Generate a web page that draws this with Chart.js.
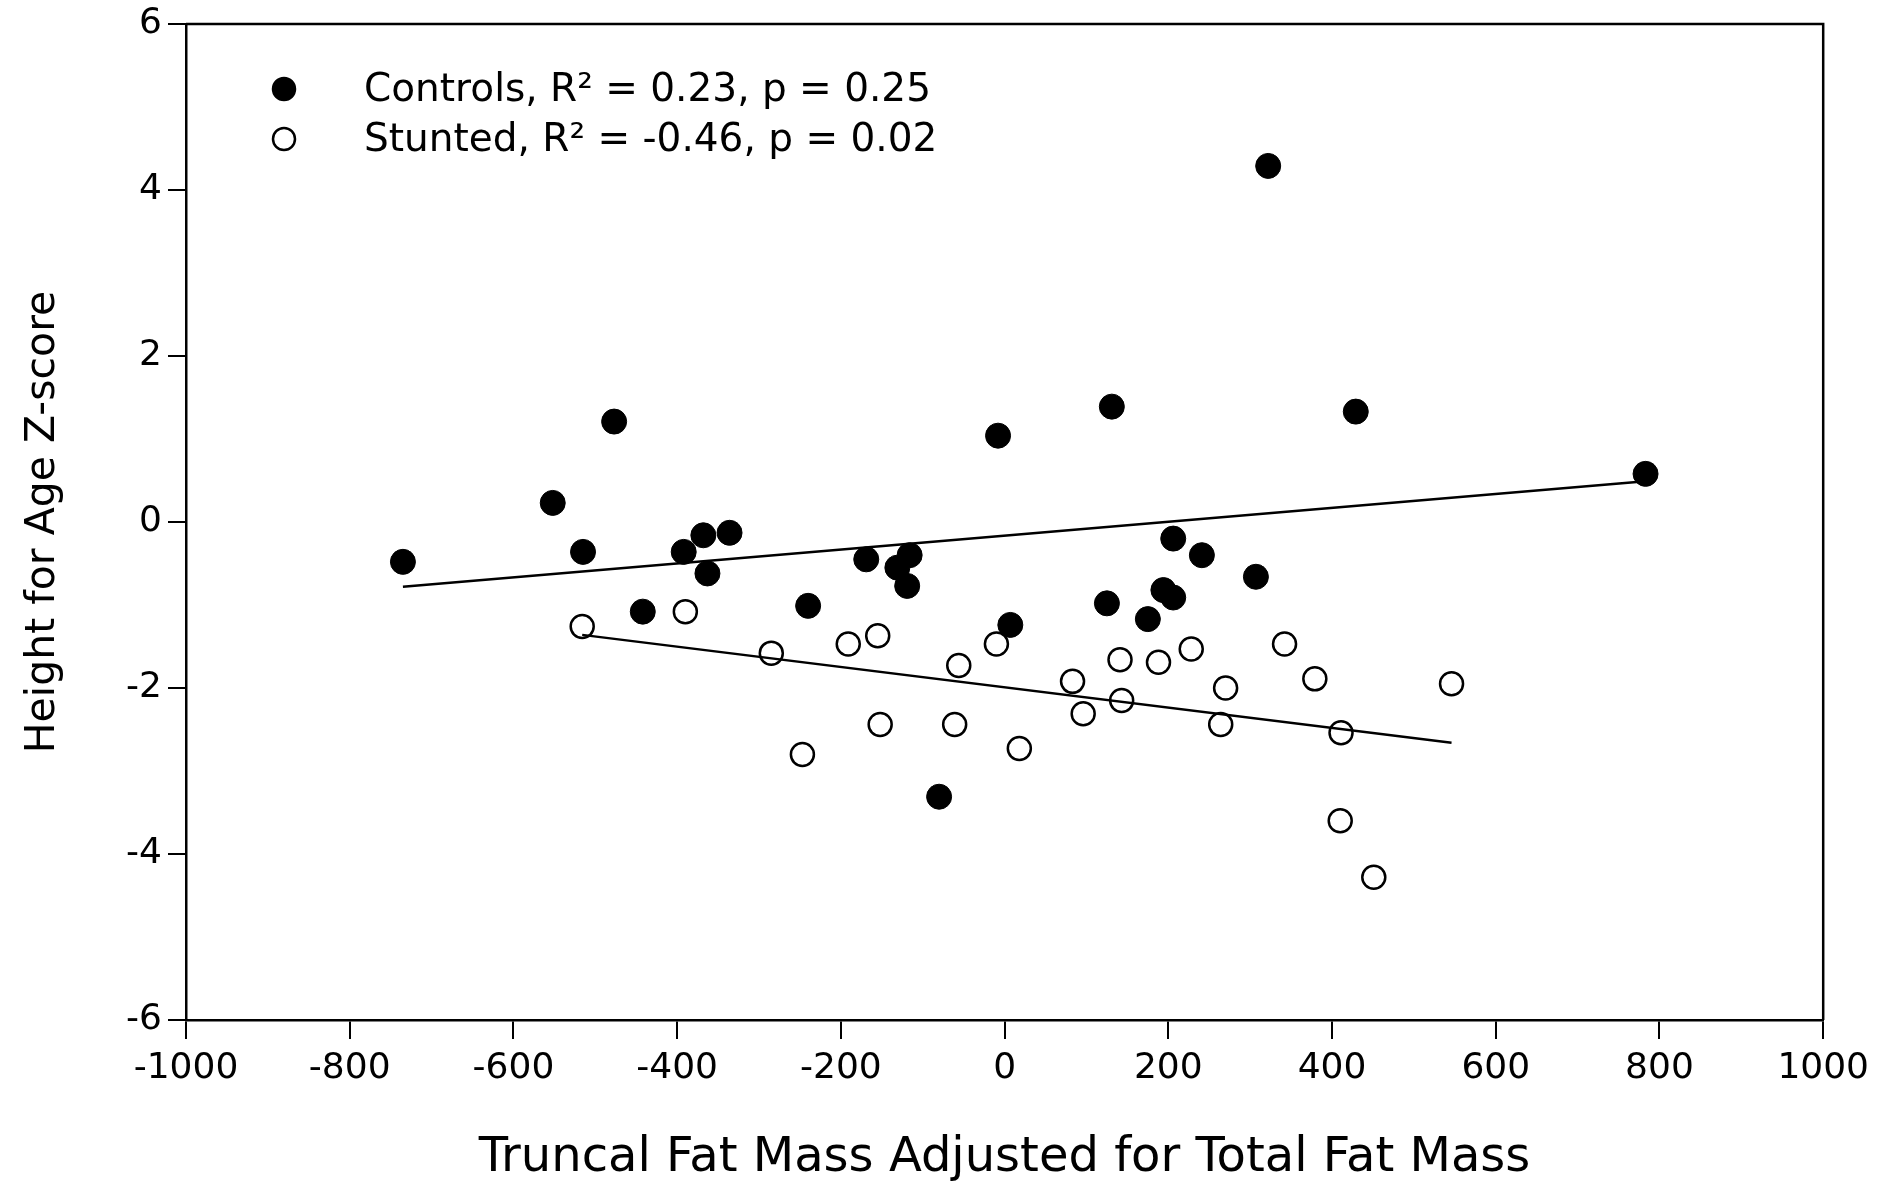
<!DOCTYPE html>
<html>
<head>
<meta charset="utf-8">
<script src="https://cdn.jsdelivr.net/npm/chart.js@4"></script>
<style>
  html, body { margin: 0; padding: 0; background: #fff; }
  #wrap { width: 1881px; height: 1183px; }
</style>
</head>
<body>
<div id="wrap"><canvas id="myChart" width="1881" height="1183"></canvas></div>
<script>
// values
var controlsX = [-735, -552, -477, -515, -442, -392, -368, -336, -363, -240, -169, -131, -116, -119, -80, -8, 7, 131, 125, 175, 206, 194, 206, 241, 307, 322, 429, 783];
var controlsY = [-0.48, 0.23, 1.21, -0.36, -1.08, -0.36, -0.16, -0.13, -0.62, -1.01, -0.45, -0.55, -0.40, -0.77, -3.31, 1.04, -1.24, 1.39, -0.98, -1.17, -0.20, -0.82, -0.91, -0.40, -0.66, 4.29, 1.33, 0.58];

var stuntedX = [-516, -390, -285, -247, -191, -155, -152, -61, -56, -10, 18, 83, 96, 141, 143, 188, 228, 264, 270, 342, 379, 411, 410, 451, 546];
var stuntedY = [-1.26, -1.08, -1.58, -2.80, -1.47, -1.37, -2.44, -2.44, -1.73, -1.47, -2.73, -1.92, -2.31, -1.66, -2.15, -1.69, -1.53, -2.44, -2.00, -1.47, -1.89, -2.54, -3.60, -4.28, -1.95];

// regression lines (end points)
var controlsFitX = [-735, 783];
var controlsFitY = [-0.78, 0.49];
var stuntedFitX = [-516, 546];
var stuntedFitY = [-1.36, -2.66];

var legendLabels = ['Controls, R\u00b2 = 0.23, p = 0.25', 'Stunted, R\u00b2 = -0.46, p = 0.02'];
var xTicks = [-1000, -800, -600, -400, -200, 0, 200, 400, 600, 800, 1000];
var yTicks = [-6, -4, -2, 0, 2, 4, 6];

function toPoints(xs, ys) {
  return xs.map(function(x, i) { return {x: x, y: ys[i]}; });
}

// рамка сверху и справа
var framePlugin = {
  id: 'frame',
  afterDatasetsDraw: function(chart) {
    var a = chart.chartArea, ctx = chart.ctx;
    ctx.save();
    ctx.strokeStyle = '#000';
    ctx.lineWidth = 2.5;
    ctx.beginPath();
    ctx.moveTo(a.left, a.top);
    ctx.lineTo(a.right, a.top);
    ctx.lineTo(a.right, a.bottom);
    ctx.stroke();
    ctx.restore();
  }
};

// легенда внутри области графика
var insideLegend = {
  id: 'insideLegend',
  afterDraw: function(chart) {
    var ctx = chart.ctx, a = chart.chartArea;
    ctx.save();
    ctx.font = '39px "DejaVu Sans"';
    ctx.textBaseline = 'middle';
    ctx.fillStyle = '#000';
    legendLabels.forEach(function(text, i) {
      var ds = chart.data.datasets[i];
      var cx = a.left + 98, cy = a.top + 65 + i * 50;
      ctx.beginPath();
      ctx.arc(cx, cy, 11, 0, Math.PI * 2);
      ctx.fillStyle = ds.backgroundColor;
      ctx.fill();
      ctx.lineWidth = 2.5;
      ctx.strokeStyle = '#000';
      ctx.stroke();
      ctx.fillStyle = '#000';
      ctx.fillText(text, a.left + 178, cy + 2);
    });
    ctx.restore();
  }
};

var ctx = document.getElementById('myChart').getContext('2d');
var myChart = new Chart(ctx, {
  type: 'scatter',
  data: {
    datasets: [
      {
        label: 'Controls',
        data: toPoints(controlsX, controlsY),
        backgroundColor: '#000',
        borderColor: '#000',
        pointRadius: 12.5,
        borderWidth: 1,
        order: 2
      },
      {
        label: 'Stunted',
        data: toPoints(stuntedX, stuntedY),
        backgroundColor: '#fff',
        borderColor: '#000',
        pointRadius: 11.5,
        borderWidth: 2.5,
        order: 2
      },
      {
        type: 'line',
        label: 'Controls fit',
        data: toPoints(controlsFitX, controlsFitY),
        borderColor: '#000',
        borderWidth: 2.5,
        pointRadius: 0,
        fill: false,
        order: 1
      },
      {
        type: 'line',
        label: 'Stunted fit',
        data: toPoints(stuntedFitX, stuntedFitY),
        borderColor: '#000',
        borderWidth: 2.5,
        pointRadius: 0,
        fill: false,
        order: 1
      }
    ]
  },
  options: {
    responsive: false,
    animation: false,
    events: [],
    layout: { padding: { left: 0, top: 24, right: 57, bottom: 0 } },
    plugins: {
      legend: { display: false },
      tooltip: { enabled: false }
    },
    scales: {
      x: {
        type: 'linear',
        min: -1000,
        max: 1000,
        afterBuildTicks: function(scale) {
          scale.ticks = xTicks.map(function(v) { return {value: v}; });
        },
        afterFit: function(scale) { scale.height = 163; },
        grid: { drawOnChartArea: false, tickLength: 19, color: '#000', lineWidth: 2 },
        border: { display: true, color: '#000', width: 2.5 },
        ticks: {
          color: '#000',
          padding: 12,
          maxRotation: 0,
          callback: function(v) { return String(v); },
          font: { family: 'DejaVu Sans', size: 36, lineHeight: 1 }
        },
        title: {
          display: true,
          text: 'Truncal Fat Mass Adjusted for Total Fat Mass',
          color: '#000',
          padding: { top: 0, bottom: 0 },
          font: { family: 'DejaVu Sans', size: 48, lineHeight: 1 }
        }
      },
      y: {
        type: 'linear',
        min: -6,
        max: 6,
        afterBuildTicks: function(scale) {
          scale.ticks = yTicks.map(function(v) { return {value: v}; });
        },
        afterFit: function(scale) { scale.width = 186; },
        grid: { drawOnChartArea: false, tickLength: 18, color: '#000', lineWidth: 2 },
        border: { display: true, color: '#000', width: 2.5 },
        ticks: {
          color: '#000',
          padding: 6,
          callback: function(v) { return String(v); },
          font: { family: 'DejaVu Sans', size: 36, lineHeight: 1 }
        },
        title: {
          display: true,
          text: 'Height for Age Z-score',
          color: '#000',
          padding: { top: 23, bottom: 0 },
          font: { family: 'DejaVu Sans', size: 41, lineHeight: 1 }
        }
      }
    }
  },
  plugins: [framePlugin, insideLegend]
});
</script>
</body>
</html>
